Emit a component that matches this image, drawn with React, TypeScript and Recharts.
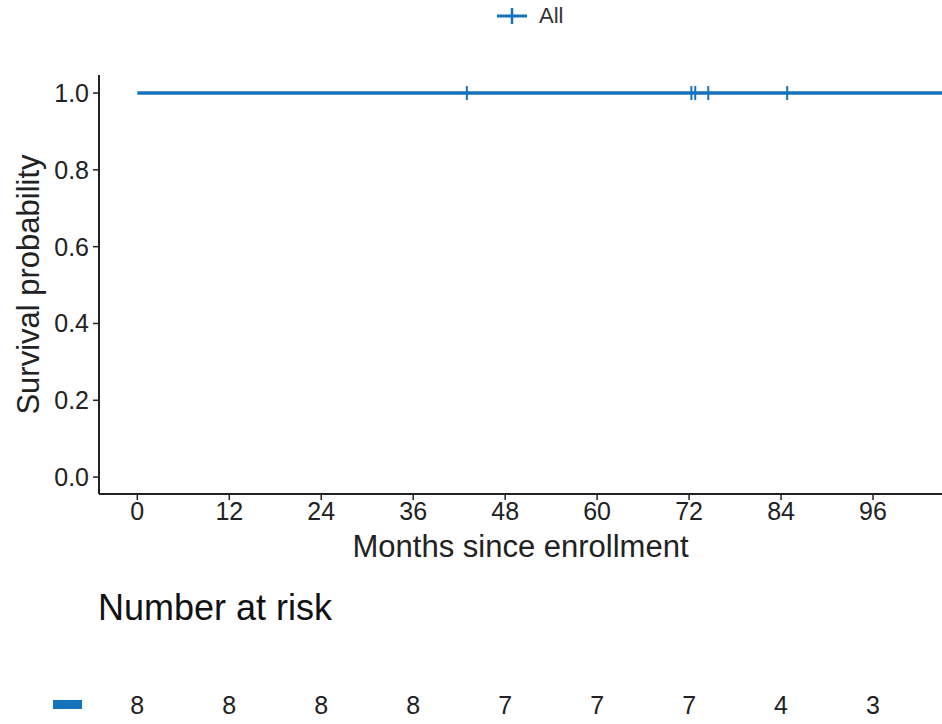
import React from "react";
import {
  ComposedChart,
  Line,
  Scatter,
  XAxis,
  YAxis,
  Label,
} from "recharts";

// survival curve (Kaplan-Meier step), all patients
const survTimes = [0, 110];
const survProb = [1, 1];

// censored observations (months)
const censorTimes = [43, 72.3, 72.8, 74.5, 84.8];

// number at risk table
const riskTimes = [0, 12, 24, 36, 48, 60, 72, 84, 96];
const riskCounts = [8, 8, 8, 8, 7, 7, 7, 4, 3];

const xTicks = [0, 12, 24, 36, 48, 60, 72, 84, 96];
const yTicks = [0, 0.2, 0.4, 0.6, 0.8, 1.0];

const BLUE = "#1573bd";
const FONT = "'Liberation Sans', Arial, sans-serif";
const X_DOMAIN: [number, number] = [-5, 105];

const survData = survTimes.map((t, i) => ({ t, s: survProb[i] }));
const censorData = censorTimes.map((t) => ({ t, s: 1 }));
const riskData = riskTimes.map((t, i) => ({ t, y: 0, n: riskCounts[i] }));

const CensorMark = (props: any) => {
  const { cx, cy } = props;
  return <line x1={cx} x2={cx} y1={cy - 7} y2={cy + 7} stroke={BLUE} strokeWidth={2} />;
};

const RiskNumber = (props: any) => {
  const { cx, cy, payload } = props;
  return (
    <text x={cx} y={cy} textAnchor="middle" dominantBaseline="central" fontSize={25} fill="#222" fontFamily={FONT}>
      {payload.n}
    </text>
  );
};

export default function App() {
  return (
    <div style={{ position: "absolute", left: 0, top: 0, width: 942, height: 724, background: "#fff", fontFamily: FONT }}>
      {/* legend */}
      <div style={{ position: "absolute", top: 3, left: 496, display: "flex", alignItems: "center", gap: 11 }}>
        <svg width={32} height={24}>
          <line x1={1} x2={31} y1={12} y2={12} stroke={BLUE} strokeWidth={3} />
          <line x1={16} x2={16} y1={4} y2={20} stroke={BLUE} strokeWidth={2.5} />
        </svg>
        <span style={{ fontSize: 22, color: "#333" }}>All</span>
      </div>

      <ComposedChart
        width={942}
        height={600}
        margin={{ top: 75, right: 0, left: 0, bottom: 0 }}
        style={{ position: "absolute", top: 0, left: 0 }}
      >
        <XAxis
          dataKey="t"
          type="number"
          domain={X_DOMAIN}
          ticks={xTicks}
          allowDataOverflow
          height={106}
          tickSize={6}
          tickMargin={2}
          tick={{ fontSize: 25, fill: "#222", fontFamily: FONT }}
          axisLine={{ stroke: "#222", strokeWidth: 2 }}
          tickLine={{ stroke: "#222", strokeWidth: 1.5 }}
        >
          <Label
            value="Months since enrollment"
            position="insideTop"
            offset={41}
            style={{ fontSize: 31, fill: "#222", fontFamily: FONT }}
          />
        </XAxis>
        <YAxis
          type="number"
          domain={[-0.044, 1.047]}
          ticks={yTicks}
          allowDataOverflow
          width={99}
          tickSize={6}
          tickMargin={4}
          tickFormatter={(v: number) => v.toFixed(1)}
          tick={{ fontSize: 25, fill: "#222", fontFamily: FONT }}
          axisLine={{ stroke: "#222", strokeWidth: 2 }}
          tickLine={{ stroke: "#222", strokeWidth: 1.5 }}
        >
          <Label
            value="Survival probability"
            angle={-90}
            position="insideLeft"
            offset={28}
            style={{ fontSize: 31, fill: "#222", fontFamily: FONT, textAnchor: "middle" }}
          />
        </YAxis>
        <Line
          data={survData}
          dataKey="s"
          type="stepAfter"
          stroke={BLUE}
          strokeWidth={3.5}
          dot={false}
          isAnimationActive={false}
        />
        <Scatter data={censorData} dataKey="s" shape={<CensorMark />} isAnimationActive={false} />
      </ComposedChart>

      <div style={{ position: "absolute", top: 587, left: 98, fontSize: 36, color: "#111" }}>
        Number at risk
      </div>

      {/* risk table */}
      <ComposedChart
        width={942}
        height={80}
        margin={{ top: 0, right: 0, left: 99, bottom: 0 }}
        style={{ position: "absolute", top: 665, left: 0 }}
      >
        <XAxis dataKey="t" type="number" domain={X_DOMAIN} hide />
        <YAxis type="number" domain={[-1, 1]} hide />
        <Scatter data={riskData} dataKey="y" shape={<RiskNumber />} isAnimationActive={false} />
      </ComposedChart>
      <div style={{ position: "absolute", top: 700, left: 53, width: 29, height: 9, background: BLUE }} />
    </div>
  );
}
